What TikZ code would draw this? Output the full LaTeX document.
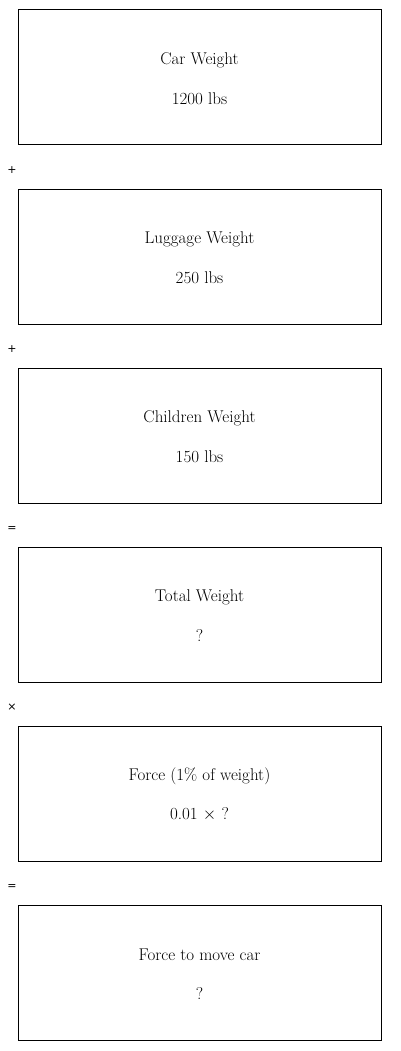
\documentclass[tikz,border=0pt]{standalone}
\usepackage{fontspec}
\newfontfamily\opfont{DejaVu Sans}
\begin{document}
\begin{tikzpicture}[x=1pt,y=-1pt,
  stepbox/.style={draw,line width=1pt,minimum width=363pt,minimum height=135pt,inner sep=0pt},
  lbl/.style={font=\fontsize{17}{19}\selectfont,anchor=center},
  op/.style={font=\opfont\fontsize{11}{13}\selectfont,anchor=center}]
\useasboundingbox (0,0) rectangle (400,1051);
\foreach \i/\t/\v in {0/Car Weight/1200 lbs,1/Luggage Weight/250 lbs,2/Children Weight/150 lbs,3/Total Weight/?,4/Force (1\% of weight)/{0.01 $\times$ ?},5/Force to move car/?}{
  \node[stepbox] (b\i) at (199.5,{77.5+179*\i}) {};
  \node[lbl] (t\i) at ([yshift=17.5pt]b\i.center) {\t};
  \node[lbl] (v\i) at ([yshift=-21pt]b\i.center) {\v};
}
\node[op] (o1) at (12,170.5) {+};
\node[op] (o2) at (12,349.5) {+};
\node[op] (o3) at (12,528.5) {=};
\node[op] (o4) at (12,707.5) {×};
\node[op] (o5) at (12,886.5) {=};
\end{tikzpicture}
\end{document}
